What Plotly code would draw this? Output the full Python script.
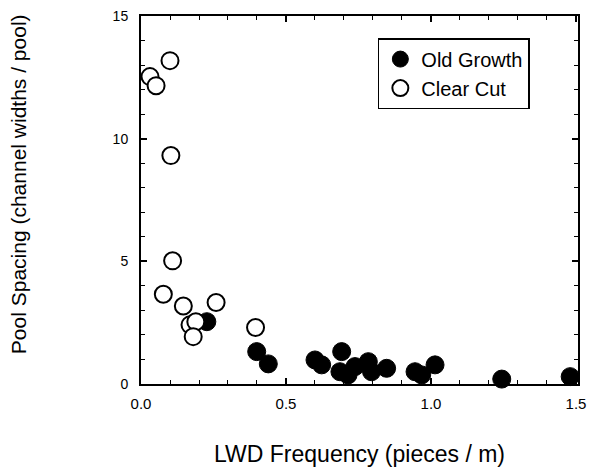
import plotly.graph_objects as go

# Clear Cut (open circles)
cc_x = [0.031, 0.052, 0.100, 0.103, 0.109, 0.077, 0.146, 0.259, 0.169, 0.189, 0.180, 0.395]
cc_y = [12.53, 12.16, 13.18, 9.31, 5.02, 3.66, 3.18, 3.32, 2.41, 2.54, 1.93, 2.30]

# Old Growth (filled circles)
og_x = [0.227, 0.399, 0.439, 0.600, 0.623, 0.692, 0.686, 0.714, 0.738, 0.784, 0.795,
        0.847, 0.945, 0.968, 1.014, 1.244, 1.480]
og_y = [2.54, 1.32, 0.82, 0.98, 0.78, 1.32, 0.50, 0.37, 0.71, 0.91, 0.50,
        0.64, 0.50, 0.37, 0.78, 0.20, 0.30]

x_ticks = [0, 0.5, 1.0, 1.5]
x_ticktext = ["0.0", "0.5", "1.0", "1.5"]
y_ticks = [0, 5, 10, 15]

FONT = "Liberation Sans, Arial, Helvetica, sans-serif"

fig = go.Figure()
fig.add_trace(go.Scatter(
    x=og_x, y=og_y, mode="markers", name="Old Growth",
    marker=dict(symbol="circle", size=18, color="black",
                line=dict(color="black", width=1)),
    cliponaxis=False,
))
fig.add_trace(go.Scatter(
    x=cc_x, y=cc_y, mode="markers", name="Clear Cut",
    marker=dict(symbol="circle", size=17, color="white",
                line=dict(color="black", width=2)),
    cliponaxis=False,
))

fig.update_layout(
    width=597, height=469,
    margin=dict(l=141, r=19, t=16, b=85),
    paper_bgcolor="white", plot_bgcolor="white",
    font=dict(family=FONT, color="black"),
    showlegend=True,
    legend=dict(
        x=0.542, y=0.94, xanchor="left", yanchor="top",
        bordercolor="black", borderwidth=1.5, bgcolor="white",
        font=dict(size=20, family=FONT),
        tracegroupgap=0, itemwidth=32,
    ),
    xaxis=dict(
        range=[0, 1.507], tickvals=x_ticks, ticktext=x_ticktext,
        ticks="inside", ticklen=6, tickwidth=1.5, tickcolor="black",
        minor=dict(dtick=0.1, ticks="inside", ticklen=4, tickwidth=1, tickcolor="black"),
        showline=True, linecolor="black", linewidth=2, mirror="ticks",
        showgrid=False, zeroline=False,
        tickfont=dict(size=15), ticklabelstandoff=5,
        automargin=False,
        title=dict(text="LWD Frequency (pieces / m)", font=dict(size=23), standoff=35),
    ),
    yaxis=dict(
        range=[0, 15], tickvals=y_ticks,
        ticks="inside", ticklen=6, tickwidth=1.5, tickcolor="black",
        minor=dict(dtick=1, ticks="inside", ticklen=4, tickwidth=1, tickcolor="black"),
        showline=True, linecolor="black", linewidth=2, mirror="ticks",
        showgrid=False, zeroline=False,
        tickfont=dict(size=14), ticklabelstandoff=8,
        automargin=False,
    ),
    annotations=[dict(
        text="Pool Spacing (channel widths / pool)",
        xref="paper", yref="paper", x=-0.2815, y=0.543,
        xanchor="center", yanchor="middle", textangle=-90,
        showarrow=False, font=dict(size=21, family=FONT),
    )],
)

fig.write_html("out.html")
